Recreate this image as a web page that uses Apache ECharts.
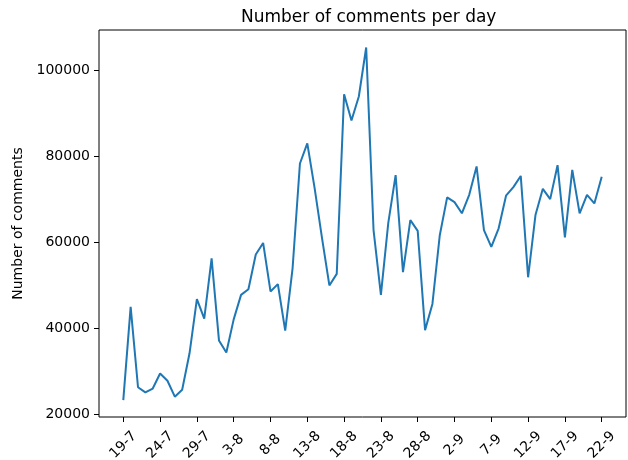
<!DOCTYPE html>
<html>
<head>
<meta charset="utf-8">
<script src="https://cdn.jsdelivr.net/npm/echarts@6/dist/echarts.min.js"></script>
<style>
html,body{margin:0;padding:0;background:#fff;}
#chart{width:628px;height:460px;}
</style>
</head>
<body>
<div id="chart"></div>
<script>
const dates = ['19-7','20-7','21-7','22-7','23-7','24-7','25-7','26-7','27-7','28-7','29-7','30-7','31-7',
  '1-8','2-8','3-8','4-8','5-8','6-8','7-8','8-8','9-8','10-8','11-8','12-8','13-8','14-8','15-8','16-8','17-8',
  '18-8','19-8','20-8','21-8','22-8','23-8','24-8','25-8','26-8','27-8','28-8','29-8','30-8','31-8',
  '1-9','2-9','3-9','4-9','5-9','6-9','7-9','8-9','9-9','10-9','11-9','12-9','13-9','14-9','15-9','16-9',
  '17-9','18-9','19-9','20-9','21-9','22-9'];
const comments = [23300, 45000, 26300, 25100, 26000, 29500, 27800, 24100, 25700, 34200,
  46800, 42300, 56300, 37200, 34400, 42100, 47800, 49100, 57200, 59900,
  48600, 50300, 39500, 54000, 78400, 83100, 72600, 61000, 50000, 52700,
  94500, 88400, 94000, 105400, 62900, 47800, 64500, 75700, 53100, 65200,
  62700, 39600, 45700, 61700, 70500, 69400, 66800, 71100, 77700, 62900,
  59000, 63300, 70900, 72900, 75500, 51900, 66400, 72500, 70100, 78000,
  61200, 76900, 66800, 71100, 69100, 75300];
const xTickLabels = ['19-7','24-7','29-7','3-8','8-8','13-8','18-8','23-8','28-8','2-9','7-9','12-9','17-9','22-9'];
const yTicks = [20000, 40000, 60000, 80000, 100000];

const xTickPos = xTickLabels.map(l => dates.indexOf(l));
const font = 'DejaVu Sans';
const chart = echarts.init(document.getElementById('chart'), null, {renderer: 'canvas'});
chart.setOption({
  animation: false,
  backgroundColor: '#ffffff',
  title: {
    text: 'Number of comments per day',
    left: 236, top: 4,
    textStyle: {fontFamily: font, fontSize: 17, fontWeight: 'normal', color: '#000'}
  },
  grid: {
    left: 99, right: 2, top: 30, bottom: 43,
    outerBoundsMode: 'none', containLabel: false,
    show: true, borderColor: '#000', borderWidth: 1, backgroundColor: 'transparent'
  },
  xAxis: {
    type: 'value',
    min: -3.3, max: 68.3,
    axisLine: {show: false, onZero: false},
    splitLine: {show: false},
    axisTick: {show: true, inside: false, length: 5, lineStyle: {color: '#000'}, customValues: xTickPos},
    axisLabel: {
      customValues: xTickPos,
      formatter: v => dates[Math.round(v)],
      rotate: 45, margin: 28, align: 'center', verticalAlign: 'middle',
      fontFamily: font, fontSize: 14, color: '#000'
    }
  },
  yAxis: {
    type: 'value',
    min: 19370, max: 109480,
    name: 'Number of comments',
    nameLocation: 'middle', nameGap: 70, nameRotate: 90,
    nameTextStyle: {fontFamily: font, fontSize: 14, color: '#000'},
    axisLine: {show: false, onZero: false},
    splitLine: {show: false},
    axisTick: {show: true, inside: false, length: 5, lineStyle: {color: '#000'}, customValues: yTicks},
    axisLabel: {
      customValues: yTicks, margin: 9,
      formatter: v => String(v),
      fontFamily: font, fontSize: 14, color: '#000'
    }
  },
  series: [{
    type: 'line',
    data: comments.map((v, i) => [i, v]),
    showSymbol: false,
    lineStyle: {color: '#1f77b4', width: 2},
    itemStyle: {color: '#1f77b4'}
  }]
});
</script>
</body>
</html>
